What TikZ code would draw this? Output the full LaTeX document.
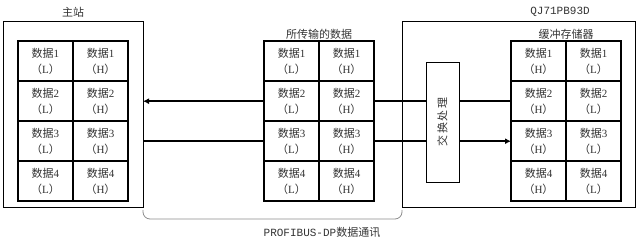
\documentclass[tikz,border=0pt]{standalone}
\usepackage{fontspec}
\usepackage{graphicx}
\setmainfont{Liberation Serif}
\newfontfamily\cjk{Noto Sans CJK SC}
\newfontfamily\monofnt{Liberation Mono}
\usetikzlibrary{positioning,arrows.meta}
\definecolor{txtGray}{HTML}{333333}
\definecolor{brGray}{HTML}{8C8C8C}
\newcommand{\datcell}[2]{{\cjk 数据}#1\\{\cjk （}#2{\cjk ）}}
\tikzset{
  outerbox/.style={rectangle, draw=black, line width=0.9pt, fill=white,
    inner sep=0pt, outer sep=0pt},
  cellbox/.style={rectangle, draw=black, line width=1.5pt, fill=white, text=txtGray,
    minimum width=55pt, minimum height=40pt, inner sep=0pt, outer sep=0pt,
    align=center, font=\fontsize{11}{16}\selectfont},
  titletext/.style={text=txtGray, font=\cjk\fontsize{11}{13}\selectfont, inner sep=1pt},
  monotext/.style={text=txtGray, font=\monofnt\fontsize{11}{13}\selectfont, inner sep=1pt},
  link/.style={line width=1.7pt, black},
  linkarr/.style={-{Latex[length=6pt,width=6pt]}, line width=1.7pt, black},
  bracketline/.style={draw=brGray, line width=0.8pt, rounded corners=7pt},
}

\begin{document}
\begin{tikzpicture}[x=1pt, y=-1pt, node distance=0pt]
\useasboundingbox (0,0) rectangle (640,240);

% ---------- outer boxes ----------
\node[outerbox, anchor=north west, minimum width=140pt, minimum height=186pt]
  (master) at (3,21) {};
\node[titletext, above=2pt of master] (master-t) {主站};

\node[outerbox, anchor=north west, minimum width=233pt, minimum height=186pt]
  (module) at (402,21) {};
\node[monotext] (module-t) at (560,12) {QJ71PB93D};

% ---------- master station data ----------
\node[cellbox, anchor=north west] (ms-1l) at (18,41.2) {\datcell{1}{L}};
\node[cellbox, right=0pt of ms-1l] (ms-1h) {\datcell{1}{H}};
\node[cellbox, below=0pt of ms-1l] (ms-2l) {\datcell{2}{L}};
\node[cellbox, right=0pt of ms-2l] (ms-2h) {\datcell{2}{H}};
\node[cellbox, below=0pt of ms-2l] (ms-3l) {\datcell{3}{L}};
\node[cellbox, right=0pt of ms-3l] (ms-3h) {\datcell{3}{H}};
\node[cellbox, below=0pt of ms-3l] (ms-4l) {\datcell{4}{L}};
\node[cellbox, right=0pt of ms-4l] (ms-4h) {\datcell{4}{H}};

% ---------- transferred data ----------
\node[cellbox, anchor=north west] (tx-1l) at (264,41.2) {\datcell{1}{L}};
\node[cellbox, right=0pt of tx-1l] (tx-1h) {\datcell{1}{H}};
\node[cellbox, below=0pt of tx-1l] (tx-2l) {\datcell{2}{L}};
\node[cellbox, right=0pt of tx-2l] (tx-2h) {\datcell{2}{H}};
\node[cellbox, below=0pt of tx-2l] (tx-3l) {\datcell{3}{L}};
\node[cellbox, right=0pt of tx-3l] (tx-3h) {\datcell{3}{H}};
\node[cellbox, below=0pt of tx-3l] (tx-4l) {\datcell{4}{L}};
\node[cellbox, right=0pt of tx-4l] (tx-4h) {\datcell{4}{H}};
\node[titletext, above=1pt of tx-1l.north east] (tx-t) {所传输的数据};

% ---------- buffer memory ----------
\node[cellbox, anchor=north west] (buf-1h) at (511,41.2) {\datcell{1}{H}};
\node[cellbox, right=0pt of buf-1h] (buf-1l) {\datcell{1}{L}};
\node[cellbox, below=0pt of buf-1h] (buf-2h) {\datcell{2}{H}};
\node[cellbox, right=0pt of buf-2h] (buf-2l) {\datcell{2}{L}};
\node[cellbox, below=0pt of buf-2h] (buf-3h) {\datcell{3}{H}};
\node[cellbox, right=0pt of buf-3h] (buf-3l) {\datcell{3}{L}};
\node[cellbox, below=0pt of buf-3h] (buf-4h) {\datcell{4}{H}};
\node[cellbox, right=0pt of buf-4h] (buf-4l) {\datcell{4}{L}};
\node[titletext, above=1pt of buf-1h.north east] (buf-t) {缓冲存储器};

% ---------- swap processing ----------
\node[outerbox, minimum width=33pt, minimum height=120pt, text=txtGray]
  (swap) at (442.5,122)
  {\rotatebox{90}{\cjk\fontsize{11}{13}\selectfont 交\kern1.5pt换\kern1.5pt处\kern1.5pt理}};

% ================= Connections =================
\draw[linkarr] (tx-2l.west) -- (master.east |- tx-2l.west);
\draw[link] (tx-3l.west) -- (master.east |- tx-3l.west);
\draw[link] (tx-2h.east) -- (swap.west |- tx-2h.east);
\draw[link] (tx-3h.east) -- (swap.west |- tx-3h.east);
\draw[link] (swap.east |- buf-2h.west) -- (buf-2h.west);
\draw[linkarr] (swap.east |- buf-3h.west) -- (buf-3h.west);

% PROFIBUS-DP bracket
\draw[bracketline] ([yshift=-3pt]master.south east) -- ([yshift=-12pt]master.south east)
  -- ([yshift=-12pt]module.south west) -- ([yshift=-3pt]module.south west);
\node[monotext] (bus-t) at (322,232) {PROFIBUS-DP{\cjk 数据通讯}};

\end{tikzpicture}
\end{document}
